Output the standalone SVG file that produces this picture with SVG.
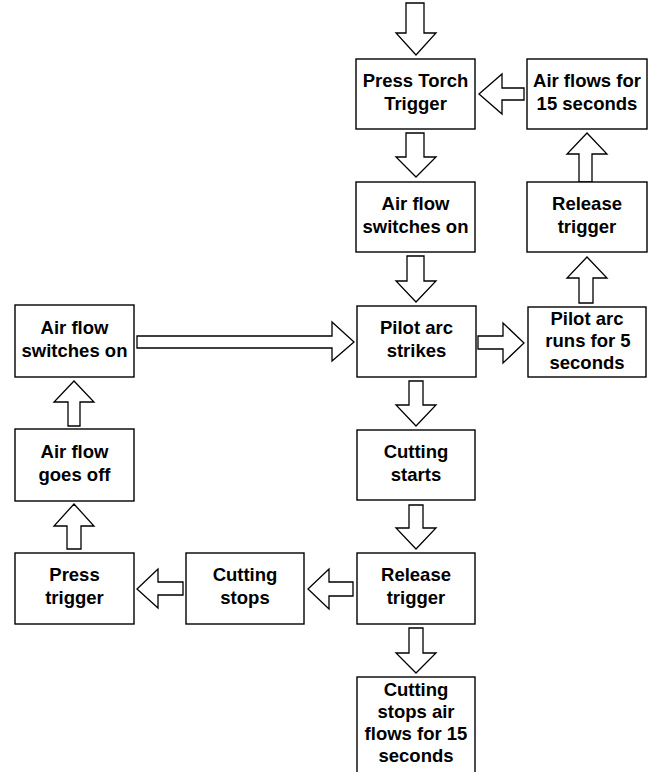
<svg xmlns="http://www.w3.org/2000/svg" width="654" height="772" viewBox="0 0 654 772">
<style>
.box{fill:#fff;stroke:#000;stroke-width:1.4}
.arr{fill:#fff;stroke:#000;stroke-width:1.3;stroke-linejoin:miter}
text{font-family:"Liberation Sans",Arial,sans-serif;font-weight:bold;font-size:18.5px;fill:#000;text-anchor:middle}
</style>
<rect width="654" height="772" fill="#fff"/>
<g id="connectors">
<polygon class="arr" points="406,3 424,3 424,33 436,33 416,55 396,33 406,33"/>
<polygon class="arr" points="406,133 424,133 424,157 436,157 416,177 396,157 406,157"/>
<polygon class="arr" points="407,256 424,256 424,281 436,281 416,302 396,281 407,281"/>
<polygon class="arr" points="409,381 423,381 423,405 436,405 416,426 396,405 409,405"/>
<polygon class="arr" points="409,505 423,505 423,528 436,528 416,549 396,528 409,528"/>
<polygon class="arr" points="409,628 423,628 423,653 436,653 416,673 396,653 409,653"/>
<polygon class="arr" points="353,582 353,596 329,596 329,609 308,589 329,569 329,582"/>
<polygon class="arr" points="183,582 183,595 158,595 158,608 137,589 158,569 158,582"/>
<polygon class="arr" points="67,549 81,549 81,526 94,526 74,504 54,526 67,526"/>
<polygon class="arr" points="68,426 80,426 80,402 94,402 74,381 54,402 68,402"/>
<polygon class="arr" points="137,336 332,336 332,322 354,342 332,361 332,348 137,348"/>
<polygon class="arr" points="478,336 503,336 503,323 524,343 503,363 503,349 478,349"/>
<polygon class="arr" points="579,303 593,303 593,278 607,278 587,257 567,278 579,278"/>
<polygon class="arr" points="579,182 592,182 592,154 607,154 587,133 567,154 579,154"/>
<polygon class="arr" points="524,88 524,100 502,100 502,114 479,94 502,74 502,88"/>
</g>
<g id="press-torch-trigger">
<rect class="box" x="356" y="59" width="119" height="70"/>
<text x="415.5" y="87">Press Torch</text>
<text x="415.5" y="110">Trigger</text>
</g>
<g id="air-flows-15-top">
<rect class="box" x="527" y="59" width="120" height="70"/>
<text x="587" y="87">Air flows for</text>
<text x="587" y="110">15 seconds</text>
</g>
<g id="air-flow-switches-on-center">
<rect class="box" x="356" y="182" width="119" height="70"/>
<text x="415.5" y="210">Air flow</text>
<text x="415.5" y="233">switches on</text>
</g>
<g id="release-trigger-top">
<rect class="box" x="527" y="182" width="120" height="70"/>
<text x="587" y="210">Release</text>
<text x="587" y="233">trigger</text>
</g>
<g id="pilot-arc-strikes">
<rect class="box" x="357" y="306" width="119" height="71"/>
<text x="416.5" y="334">Pilot arc</text>
<text x="416.5" y="357">strikes</text>
</g>
<g id="pilot-arc-runs">
<rect class="box" x="528" y="307" width="118" height="70"/>
<text x="587" y="325">Pilot arc</text>
<text x="588" y="347">runs for 5</text>
<text x="587" y="369">seconds</text>
</g>
<g id="air-flow-switches-on-left">
<rect class="box" x="15" y="305" width="119" height="72"/>
<text x="74.5" y="334">Air flow</text>
<text x="74.5" y="357">switches on</text>
</g>
<g id="cutting-starts">
<rect class="box" x="357" y="430" width="118" height="70"/>
<text x="416" y="458">Cutting</text>
<text x="416" y="481">starts</text>
</g>
<g id="air-flow-goes-off">
<rect class="box" x="15" y="429" width="119" height="72"/>
<text x="74.5" y="458">Air flow</text>
<text x="74.5" y="481">goes off</text>
</g>
<g id="release-trigger-bottom">
<rect class="box" x="357" y="553" width="118" height="71"/>
<text x="416" y="581">Release</text>
<text x="416" y="604">trigger</text>
</g>
<g id="cutting-stops">
<rect class="box" x="186" y="553" width="118" height="71"/>
<text x="245" y="581">Cutting</text>
<text x="245" y="604">stops</text>
</g>
<g id="press-trigger">
<rect class="box" x="15" y="553" width="119" height="71"/>
<text x="74.5" y="581">Press</text>
<text x="74.5" y="604">trigger</text>
</g>
<g id="cutting-stops-air-flows">
<rect class="box" x="357" y="677" width="118" height="110"/>
<text x="416" y="696">Cutting</text>
<text x="416" y="718">stops air</text>
<text x="416" y="740">flows for 15</text>
<text x="416" y="762">seconds</text>
</g>
</svg>
